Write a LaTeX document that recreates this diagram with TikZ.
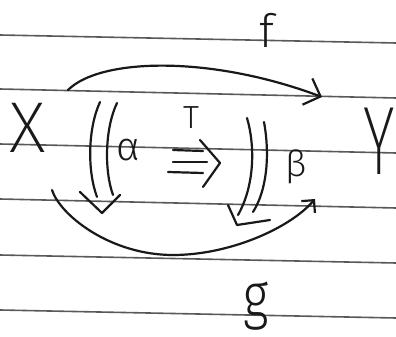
\documentclass[tikz,border=0pt]{standalone}
\usepackage{fontspec}
\newfontfamily\handlight{Fira Sans Light}
\newfontfamily\handxl{Fira Sans ExtraLight}
\usetikzlibrary{arrows.meta}
\tikzset{
  pen/.style={line width=2.2pt, line cap=round, line join=round, black!90},
  rule/.style={line width=1.6pt, black!65},
  lbl/.style={inner sep=0pt, black!90},
  barb/.style={-{Straight Barb[length=#1pt,width=2*#1pt]}}
}
\begin{document}
\begin{tikzpicture}[x=1pt,y=-1pt]
\useasboundingbox (0,0) rectangle (396,337);
\fill[white] (0,0) rectangle (396,337);
% ruled paper
\foreach \a/\b in {35/43, 89/98, 144/153, 199/208, 255/263, 310/318}
  \draw[rule] (0,\a) -- (396,\b);
% objects
\node[lbl] (X) at (28,128) {\handxl\fontsize{72}{72}\selectfont X};
\node[lbl, xscale=0.85, yscale=1.35] (Y) at (379,141) {\handxl\fontsize{72}{72}\selectfont Y};
% labels
\node[lbl] (f) at (267,30) {\handlight\fontsize{46}{46}\selectfont f};
\node[lbl, yscale=1.25] (g) at (256,306) {\handlight\fontsize{50}{50}\selectfont g};
\node[lbl] (T) at (191,118) {\handlight\fontsize{32}{32}\selectfont T};
\node[lbl] (al) at (128,150) {\handlight\fontsize{40}{40}\selectfont α};
\node[lbl] (be) at (296,167) {\handlight\fontsize{36}{36}\selectfont β};
% 1-cells
\coordinate (fs) at (68,90);
\coordinate (fe) at (322,97);
\draw[pen, barb=14] (fs) .. controls (100,58) and (210,55) .. (fe);
\coordinate (gs) at (52,190);
\coordinate (gm) at (173,255);
\coordinate (ge) at (315,199);
\draw[pen, barb=9] (gs) .. controls (60,215) and (110,255) .. (gm)
  .. controls (230,255) and (290,228) .. (ge);
% 2-cell alpha
\draw[pen] (100,102) .. controls (88,128) and (87,170) .. (97,197);
\draw[pen] (117,103) .. controls (105,128) and (104,170) .. (113,195);
\coordinate (at) at (102,213);
\draw[pen] (80,192) -- (at) -- (120,195);
% 2-cell beta
\draw[pen] (247,118) .. controls (255,145) and (255,185) .. (238,215);
\draw[pen] (264,122) .. controls (270,155) and (267,190) .. (253,212);
\coordinate (bt) at (237,225);
\draw[pen] (228,205) -- (bt) -- (270,220);
% 3-cell T
\draw[pen] (173,150) -- (203,151);
\draw[pen] (173,162) -- (207,162);
\draw[pen] (168,172) -- (203,173);
\coordinate (tt) at (220,163);
\draw[pen] (200,140) -- (tt) -- (203,187);
\end{tikzpicture}
\end{document}
